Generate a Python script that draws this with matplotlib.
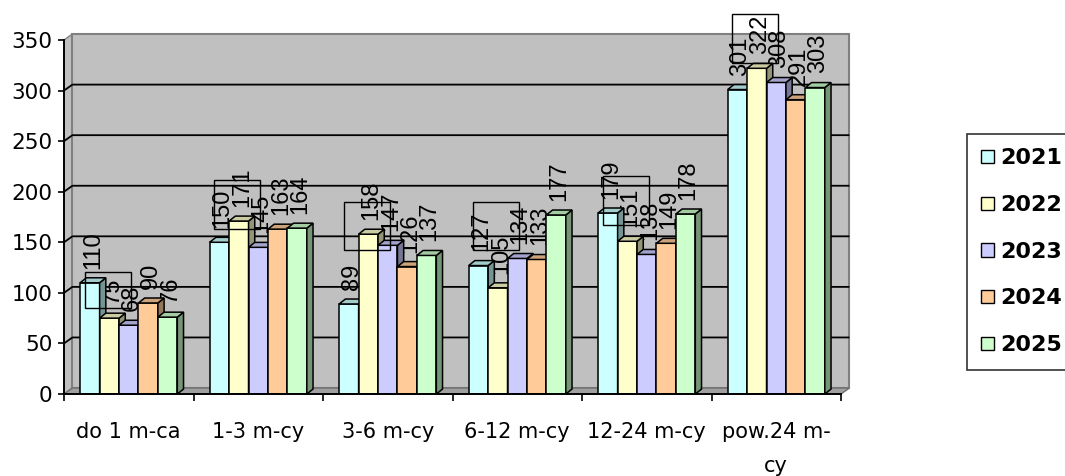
import matplotlib
matplotlib.use("Agg")
import matplotlib.pyplot as plt
from matplotlib.patches import Polygon, Rectangle, Patch
import numpy as np

# ---- data ----
categories = ["do 1 m-ca", "1-3 m-cy", "3-6 m-cy", "6-12 m-cy", "12-24 m-cy", "pow.24 m-\ncy"]
years = ["2021", "2022", "2023", "2024", "2025"]
v2021 = [110, 150, 89, 127, 179, 301]
v2022 = [75, 171, 158, 105, 151, 322]
v2023 = [68, 145, 147, 134, 138, 308]
v2024 = [90, 163, 126, 133, 149, 291]
v2025 = [76, 164, 137, 177, 178, 303]
series = [v2021, v2022, v2023, v2024, v2025]
yticks = [0, 50, 100, 150, 200, 250, 300, 350]

# stray label frames seen in the picture (value range, per category)
frame_lo = [85, 163, 142, 142, 167, 327]
frame_hi = [121, 212, 190, 190, 216, 376]

# ---- style ----
colors = ["#CCFFFF", "#FFFFCC", "#CCCCFF", "#FFCC99", "#CCFFCC"]
wall_c = "#C0C0C0"
floor_c = "#A0A0A0"

W, H = 1065, 476
fig = plt.figure(figsize=(W / 100, H / 100), dpi=100)
ax = fig.add_axes([64 / W, 1 - 394 / H, (841 - 64) / W, (394 - 40) / H])
ax.set_xlim(-0.5, 5.5)
ax.set_ylim(0, 350)
ax.set_facecolor("none")

n = len(categories)
bw = 0.15
wdx, wdy = 0.065, 5.9      # wall depth offset (data units)
bdx, bdy = 0.048, 4.9      # bar depth offset

def shade(c, f):
    r, g, b = matplotlib.colors.to_rgb(c)
    return (r * f, g * f, b * f)

# walls and floor
x0, x1, top = -0.5, n - 0.5, 350
ax.add_patch(Polygon([(x0, 0), (x0, top), (x0 + wdx, top + wdy), (x0 + wdx, wdy)],
                     closed=True, fc=wall_c, ec="#808080", lw=1.0, clip_on=False, zorder=0))
ax.add_patch(Polygon([(x0 + wdx, wdy), (x0 + wdx, top + wdy), (x1 + wdx, top + wdy), (x1 + wdx, wdy)],
                     closed=True, fc=wall_c, ec="#808080", lw=1.5, clip_on=False, zorder=0))
ax.add_patch(Polygon([(x0, 0), (x1, 0), (x1 + wdx, wdy), (x0 + wdx, wdy)],
                     closed=True, fc=floor_c, ec="#707070", lw=1.0, clip_on=False, zorder=0.5))
for v in yticks[1:-1]:
    ax.plot([x0, x0 + wdx, x1 + wdx], [v, v + wdy, v + wdy], color="black", lw=1.3,
            zorder=0.6, clip_on=False, solid_capstyle="butt")

# data labels (behind bars)
xc = np.arange(n)
for j, vals in enumerate(series):
    xs = xc + (j - 2) * bw
    for x, v in zip(xs, vals):
        ax.text(x + bdx / 2, v + bdy + 9, str(v), rotation=90, ha="center", va="bottom",
                fontsize=17, family="Liberation Sans", zorder=1, clip_on=False)

# bars with 3D faces
for j, vals in enumerate(series):
    xs = xc + (j - 2) * bw
    z = 2 + j * 0.1
    ax.bar(xs, vals, width=bw, color=colors[j], edgecolor="black", lw=1.1, zorder=z)
    for x, v in zip(xs, vals):
        r, l = x + bw / 2, x - bw / 2
        ax.add_patch(Polygon([(r, 0), (r + bdx, bdy), (r + bdx, v + bdy), (r, v)], closed=True,
                             fc=shade(colors[j], 0.58), ec="black", lw=1.1, zorder=z, clip_on=False))
        ax.add_patch(Polygon([(l, v), (r, v), (r + bdx, v + bdy), (l + bdx, v + bdy)], closed=True,
                             fc=shade(colors[j], 0.8), ec="black", lw=1.1, zorder=z, clip_on=False))

# stray frames
for i in range(n):
    ax.add_patch(Rectangle((i - 0.34, frame_lo[i]), 0.355, frame_hi[i] - frame_lo[i], fill=False,
                           ec="black", lw=1.0, zorder=3, clip_on=False))

# axes
for s in ["top", "right"]:
    ax.spines[s].set_visible(False)
ax.spines["left"].set_linewidth(1.4)
ax.spines["bottom"].set_linewidth(1.4)
ax.spines["left"].set_zorder(5)
ax.spines["bottom"].set_zorder(5)
ax.set_yticks(yticks)
ax.tick_params(axis="y", direction="out", length=4, width=1.2, pad=4.5, labelsize=15.5)
ax.set_xticks(np.arange(-0.5, n, 1.0))
ax.set_xticklabels([])
ax.tick_params(axis="x", which="major", direction="out", length=5, width=1.2)
ax.set_xticks(xc, minor=True)
ax.set_xticklabels(categories, minor=True, fontsize=15, linespacing=1.9)
ax.tick_params(axis="x", which="minor", length=0, pad=20)
for lab in ax.get_xticklabels(minor=True):
    lab.set_verticalalignment("top")

# legend
handles = [Patch(facecolor=c, edgecolor="black", lw=1.0) for c in colors]
leg = fig.legend(handles, years, loc="upper left", bbox_to_anchor=(967 / W, 1 - 134 / H),
                 prop={"weight": "bold", "size": 16}, frameon=True, fancybox=False,
                 edgecolor="black", handlelength=0.55, handleheight=0.55, handletextpad=0.28,
                 labelspacing=1.2, borderpad=0.65, borderaxespad=0)
leg.get_frame().set_linewidth(1.2)

fig.savefig("out.png", dpi=100)
